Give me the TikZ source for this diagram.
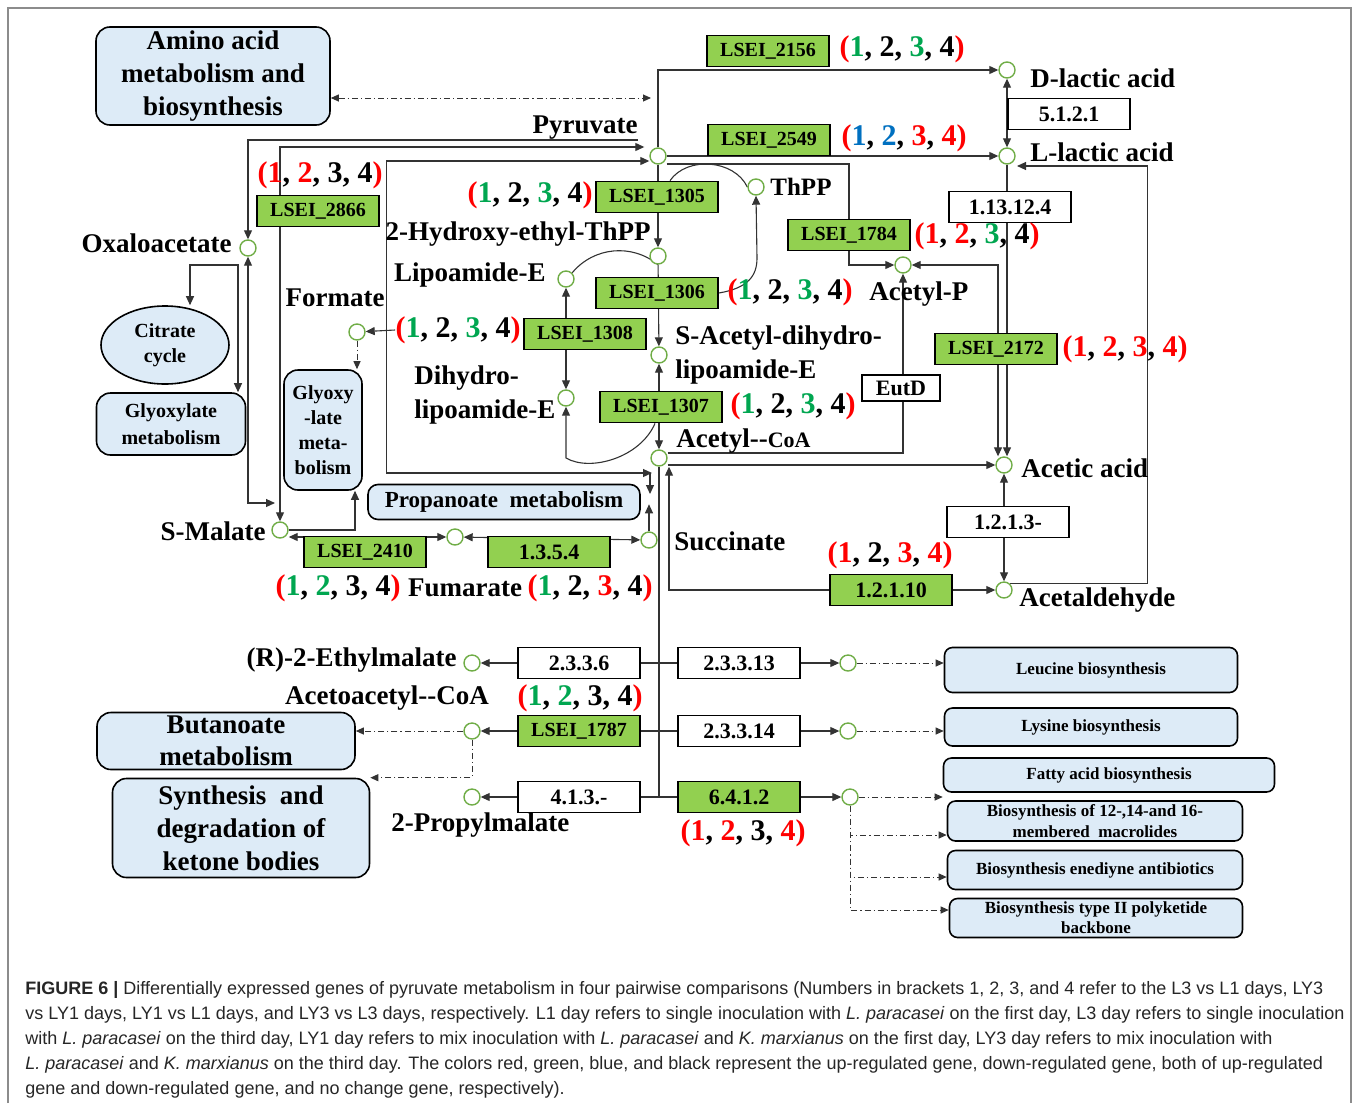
\documentclass[tikz,border=0pt]{standalone}
\usepackage{fontspec}
\setmainfont{Liberation Serif}
\newfontfamily\capfont{Liberation Sans}
\usepackage{xcolor}
\usepackage{tikz}
\usetikzlibrary{arrows.meta,shapes.geometric,backgrounds}
\definecolor{genegreen}{RGB}{146,208,80}
\definecolor{circgreen}{RGB}{112,173,71}
\definecolor{pathblue}{RGB}{221,235,247}
\definecolor{cntgreen}{RGB}{0,166,80}
\definecolor{cntblue}{RGB}{0,112,192}
\newcommand{\cR}[1]{\textcolor{red}{#1}}
\newcommand{\cG}[1]{\textcolor{cntgreen}{#1}}
\newcommand{\cB}[1]{\textcolor{cntblue}{#1}}
\newcommand{\regs}[4]{\textcolor{red}{(}#1, #2, #3, #4\textcolor{red}{)}}
\tikzset{
  met/.style={circle, draw=circgreen, line width=0.7pt, fill=white, minimum size=8pt, inner sep=0pt},
  gene/.style={draw, line width=0.9pt, fill=genegreen, minimum width=61pt, minimum height=15.5pt, inner sep=0pt, font=\bfseries\fontsize{10}{12}\selectfont},
  numfont/.style={font=\bfseries\fontsize{11}{13}\selectfont},
  ec/.style={gene, fill=white, numfont},
  lbl/.style={font=\bfseries\fontsize{13.5}{17}\selectfont, inner sep=1pt},
  cnt/.style={font=\bfseries\fontsize{15}{18}\selectfont, inner sep=0pt},
  pathbox/.style={draw, line width=0.8pt, rounded corners=7pt, fill=pathblue, inner sep=1pt, align=center},
  sidebox/.style={pathbox, rounded corners=4pt, minimum width=146.5pt, font=\bfseries\fontsize{8.5}{10.5}\selectfont},
  conn/.style={draw=black!80, line width=0.55pt},
  arr/.style={conn, -{Triangle[length=4.5pt,width=4pt]}},
  arr2/.style={conn, {Triangle[length=4.5pt,width=4pt]}-{Triangle[length=4.5pt,width=4pt]}},
  dd/.style={conn, line width=0.5pt, dash pattern=on 3pt off 1.5pt on 0.6pt off 1.5pt, -{Triangle[length=4pt,width=3.5pt]}},
  dd2/.style={dd, {Triangle[length=4pt,width=3.5pt]}-{Triangle[length=4pt,width=3.5pt]}},
  captxt/.style={font=\capfont\fontsize{9}{11}\selectfont, inner sep=0pt, text=black!85}
}
\begin{document}
\begin{tikzpicture}[x=0.5pt,y=-0.5pt]
\useasboundingbox (0,0) rectangle (1358,1103);
\draw[black!45, line width=0.6pt] (8,1103) -- (8,8) -- (1351,8) -- (1351,1103);

\node[met] (pyr) at (658,156) {};
\node[met] (dlac) at (1007,70) {};
\node[met] (llac) at (1007,156) {};
\node[met] (oaa) at (248,248) {};
\node[met] (thpp) at (756,187) {};
\node[met] (hthpp) at (658,256) {};
\node[met] (lipe) at (566,279) {};
\node[met] (acp) at (903,265) {};
\node[met] (form) at (357,332) {};
\node[met] (sacl) at (659,355) {};
\node[met] (dhl) at (566,398) {};
\node[met] (acoa) at (659,458) {};
\node[met] (acet) at (1004,465) {};
\node[met] (smal) at (280,530) {};
\node[met] (fum) at (455,537) {};
\node[met] (succ) at (649,540) {};
\node[met] (acald) at (1004,590) {};
\node[met] (ethm) at (472,663) {};
\node[met] (m2313) at (848,663) {};
\node[met] (aacoa) at (472,731) {};
\node[met] (m2314) at (848,731) {};
\node[met] (propm) at (472,797) {};
\node[met] (m6412) at (850,797) {};

\node[lbl] (tpyr) at (585,128) {Pyruvate};
\node[lbl, anchor=west] (tdlac) at (1028,78) {D-lactic acid};
\node[lbl, anchor=west] (tllac) at (1028,152) {L-lactic acid};
\node[lbl, anchor=west, font=\bfseries\fontsize{12.5}{15}\selectfont] (tthpp) at (768,187) {ThPP};
\node[lbl, anchor=east] (toaa) at (234,243) {Oxaloacetate};
\node[lbl, anchor=east] (thth) at (653,234) {2-Hydroxy-ethyl-ThPP};
\node[lbl, anchor=east] (tlipe) at (548,275) {Lipoamide-E};
\node[lbl, anchor=west] (tacp) at (867,294) {Acetyl-P};
\node[lbl] (tform) at (335,298) {Formate};
\node[lbl, anchor=west, align=left] (tsacl) at (673,355) {S-Acetyl-dihydro-\\lipoamide-E};
\node[lbl, anchor=west, align=left] (tdhl) at (412,395) {Dihydro-\\lipoamide-E};
\node[lbl, anchor=west] (tacoa) at (674,441) {Acetyl-{}-{\fontsize{11}{13}\selectfont CoA}};
\node[lbl, anchor=west] (tacet) at (1019,468) {Acetic acid};
\node[lbl, anchor=east] (tsmal) at (268,531) {S-Malate};
\node[lbl, anchor=west] (tsucc) at (672,541) {Succinate};
\node[lbl] (tfum) at (465,588) {Fumarate};
\node[lbl, anchor=west] (tacald) at (1017,600) {Acetaldehyde};
\node[lbl, anchor=east] (tethm) at (459,660) {(R)-2-Ethylmalate};
\node[lbl] (taacoa) at (387,698) {Acetoacetyl-{}-CoA};
\node[lbl, anchor=west] (tpropm) at (389,825) {2-Propylmalate};

\node[gene] (g2156) at (768,51) {LSEI\_2156};
\node[gene] (g2549) at (769,140) {LSEI\_2549};
\node[gene] (g2866) at (318,211) {LSEI\_2866};
\node[gene] (g1305) at (657,197) {LSEI\_1305};
\node[gene] (g1784) at (849,235) {LSEI\_1784};
\node[gene] (g1306) at (657,293) {LSEI\_1306};
\node[gene] (g1308) at (585,334) {LSEI\_1308};
\node[gene] (g2172) at (996,349) {LSEI\_2172};
\node[gene] (g1307) at (661,407) {LSEI\_1307};
\node[gene] (g2410) at (365,552) {LSEI\_2410};
\node[gene, numfont] (e1354) at (549,552) {1.3.5.4};
\node[gene, numfont] (e12110) at (891,590) {1.2.1.10};
\node[gene] (g1787) at (579,731) {LSEI\_1787};
\node[gene, numfont] (e6412) at (739,797) {6.4.1.2};

\node[ec] (e5121) at (1069,114) {5.1.2.1};
\node[ec] (e113124) at (1010,207) {1.13.12.4};
\node[ec, minimum width=39pt, minimum height=13pt] (eutd) at (901,388) {EutD};
\node[ec] (e1213) at (1008,522) {1.2.1.3-};
\node[ec] (e2336) at (579,663) {2.3.3.6};
\node[ec] (e23313) at (739,663) {2.3.3.13};
\node[ec] (e23314) at (739,731) {2.3.3.14};
\node[ec] (e413) at (579,797) {4.1.3.-};

\node[cnt] (fc2156) at (902,49) {\regs{\cG{1}}{2}{\cG{3}}{4}};
\node[cnt] (fc2549) at (904,138) {\regs{\cB{1}}{\cB{2}}{\cR{3}}{\cR{4}}};
\node[cnt] (fc2866) at (320,175) {\regs{\cR{1}}{\cR{2}}{3}{4}};
\node[cnt] (fc1305) at (530,195) {\regs{\cG{1}}{2}{\cG{3}}{4}};
\node[cnt] (fc1784) at (977,236) {\regs{\cR{1}}{\cR{2}}{\cG{3}}{4}};
\node[cnt] (fc1306) at (790,292) {\regs{\cG{1}}{2}{\cG{3}}{4}};
\node[cnt] (fc1308) at (458,330) {\regs{\cG{1}}{2}{\cG{3}}{4}};
\node[cnt] (fc2172) at (1125,349) {\regs{\cR{1}}{\cR{2}}{\cR{3}}{\cR{4}}};
\node[cnt] (fc1307) at (793,406) {\regs{\cG{1}}{2}{\cG{3}}{4}};
\node[cnt] (fc2410) at (338,588) {\regs{\cG{1}}{\cG{2}}{3}{4}};
\node[cnt] (fc1354) at (590,588) {\regs{\cG{1}}{2}{\cR{3}}{4}};
\node[cnt] (fc12110) at (890,555) {\regs{\cR{1}}{2}{\cR{3}}{\cR{4}}};
\node[cnt] (fc1787) at (580,698) {\regs{\cG{1}}{\cG{2}}{3}{4}};
\node[cnt] (fc6412) at (743,833) {\regs{\cR{1}}{\cR{2}}{3}{\cR{4}}};

\node[pathbox, minimum width=117pt, minimum height=49pt, font=\bfseries\fontsize{13.5}{16.5}\selectfont] (amino) at (213,76) {Amino acid\\metabolism and\\biosynthesis};
\node[ellipse, draw, line width=0.8pt, fill=pathblue, minimum width=64pt, minimum height=39pt, inner sep=0pt, align=center, font=\bfseries\fontsize{10}{12.5}\selectfont] (citrate) at (165,345) {Citrate\\cycle};
\node[pathbox, minimum width=74.5pt, minimum height=31pt, font=\bfseries\fontsize{10}{13.5}\selectfont] (glyox) at (171,424) {Glyoxylate\\metabolism};
\node[pathbox, minimum width=39pt, minimum height=60pt, font=\bfseries\fontsize{10}{12.5}\selectfont] (glyox2) at (323,430) {Glyoxy\\-late\\meta-\\bolism};
\node[pathbox, rounded corners=5pt, minimum width=136pt, minimum height=17.5pt, font=\bfseries\fontsize{11.5}{13}\selectfont] (propa) at (504,502) {Propanoate\ \ metabolism};
\node[pathbox, minimum width=129pt, minimum height=28.5pt, font=\bfseries\fontsize{13.5}{16}\selectfont] (buta) at (226,741) {Butanoate\\metabolism};
\node[pathbox, minimum width=128.5pt, minimum height=49.5pt, font=\bfseries\fontsize{13.5}{16.5}\selectfont] (keto) at (241,828) {Synthesis\ \ and\\degradation\ of\\ketone bodies};
\node[sidebox, minimum height=22.5pt] (leu) at (1091,670) {Leucine biosynthesis};
\node[sidebox, minimum height=19pt] (lys) at (1091,727) {Lysine biosynthesis};
\node[sidebox, minimum width=165.5pt, minimum height=17pt] (fatty) at (1109,775) {Fatty acid biosynthesis};
\node[sidebox, minimum width=147.5pt, minimum height=20pt] (macro) at (1095,821) {Biosynthesis of 12-,14-and 16-\\membered\ \ macrolides};
\node[sidebox, minimum width=147.5pt, minimum height=19.5pt] (ened) at (1095,870) {Biosynthesis enediyne antibiotics};
\node[sidebox, minimum width=146.5pt, minimum height=19.5pt, font=\bfseries\fontsize{8.5}{10}\selectfont] (poly) at (1096,918) {Biosynthesis type II polyketide\\backbone};

\coordinate (pj) at (652,473);
\coordinate (ob) at (238,265);
\begin{scope}[on background layer]
\draw[arr] (pyr) |- (dlac);
\draw[arr] (pyr) -- (llac);
\draw[arr2] (dlac) -- (llac);
\draw[arr] (llac.south) -- (llac.south |- acet.north);
\draw[arr2] (acp) -| ([xshift=-3pt]acet.north);
\draw[arr] (acald.north east) -| ([xshift=66pt,yshift=-5pt]llac.east) -- ([shift={(5pt,-5pt)}]llac.center);
\draw[arr] ([shift={(-10pt,8pt)}]pyr.center) -| (oaa);
\draw[arr2] (smal.north) |- ([shift={(-2.5pt,4.5pt)}]pyr.west);
\draw[arr2] (oaa.south) |- ([shift={(-2.5pt,13.5pt)}]smal.center);
\draw[arr2] ([yshift=-2.5pt]pyr.west) -- ++(-263,0) |- (pj);
\draw[arr] ([xshift=-1pt]pj) -- ++(0,21);
\draw[arr] (succ.north) -- ++(0,-27);
\draw[arr] (pyr) -- (hthpp);
\draw[conn] ([xshift=6.5pt]g1305.north) to[bend left=60] (thpp.west);
\draw[arr] (g1306.east) .. controls (748,288) and (757,276) .. (757,258) -- (thpp.south);
\draw[conn] (lipe.north east) to[bend left=45] (hthpp.south);
\draw[arr] (hthpp) -- (sacl);
\draw[arr2] (lipe) -- (dhl);
\draw[arr] (fc1308.west) -- (form);
\draw[dd] (form.south) -- (form.south |- glyox2.north);
\draw[arr2] (sacl) -- (acoa);
\draw[arr] ([xshift=-3pt]g1307.south) .. controls (640,458) and (590,472) .. (566,458) -- (dhl.south);
\draw[arr] ([yshift=2.5pt]acoa.east) -| (acp);
\draw[arr] ([yshift=-3.5pt]acoa.east) -- (acet.west);
\draw[arr2] (acet) -- (acald);
\draw[arr] (e12110) -- (acald);
\draw[arr] (e12110) -| ([xshift=5pt]acoa.south);
\draw[arr] ([yshift=-4pt]pyr.east) -| (g1784) |- (acp);
\draw[arr2] ([xshift=12.5pt]citrate.north) |- (ob) -- (ob |- glyox.north);
\draw[arr] (smal.east) -| ([xshift=16pt]glyox2.south);
\draw[arr2] ([yshift=-3.5pt]smal.east) -- (fum.west);
\draw[arr2] (fum) -- (succ);
\draw[conn] (acoa) -- (acoa |- e413.east);
\draw[conn] (e2336) -- (e23313);
\draw[conn] (g1787) -- (e23314);
\draw[conn] (e413) -- (e6412);
\draw[arr] (e2336) -- (ethm);
\draw[arr] (e23313) -- (m2313);
\draw[dd] (m2313) -- (m2313 -| leu.west);
\draw[arr] (g1787) -- (aacoa);
\draw[arr] (e23314) -- (m2314);
\draw[dd] (m2314) -- (m2314 -| lys.west);
\draw[dd] (aacoa) -- (aacoa -| buta.east);
\draw[dd] (aacoa.south) |- (keto.north east);
\draw[arr] (e413) -- (propm);
\draw[arr] (e6412) -- (m6412);
\draw[dd] (m6412) -- (m6412 -| fatty.west);
\draw[dd] (m6412.south) |- ([yshift=-7pt]macro.west);
\draw[dd] (m6412.south) |- ([yshift=-3.5pt]ened.west);
\draw[dd] (m6412.south) |- ([yshift=4pt]poly.west);
\draw[dd2] ([yshift=-11pt]amino.east) -- ([shift={(-3.5pt,29pt)}]pyr.center);
\end{scope}

\node[captxt, anchor=base west] (cap1) at (25,994) {\textbf{FIGURE 6 |} Differentially expressed genes of pyruvate metabolism in four pairwise comparisons (Numbers in brackets 1, 2, 3, and 4 refer to the L3 vs L1 days, LY3};
\node[captxt, anchor=base west] (cap2) at (25,1019) {vs LY1 days, LY1 vs L1 days, and LY3 vs L3 days, respectively. L1 day refers to single inoculation with \textit{L. paracasei} on the first day, L3 day refers to single inoculation};
\node[captxt, anchor=base west] (cap3) at (25,1044) {with \textit{L. paracasei} on the third day, LY1 day refers to mix inoculation with \textit{L. paracasei} and \textit{K. marxianus} on the first day, LY3 day refers to mix inoculation with};
\node[captxt, anchor=base west] (cap4) at (25,1069) {\textit{L. paracasei} and \textit{K. marxianus} on the third day. The colors red, green, blue, and black represent the up-regulated gene, down-regulated gene, both of up-regulated};
\node[captxt, anchor=base west] (cap5) at (25,1094) {gene and down-regulated gene, and no change gene, respectively).};
\end{tikzpicture}
\end{document}
